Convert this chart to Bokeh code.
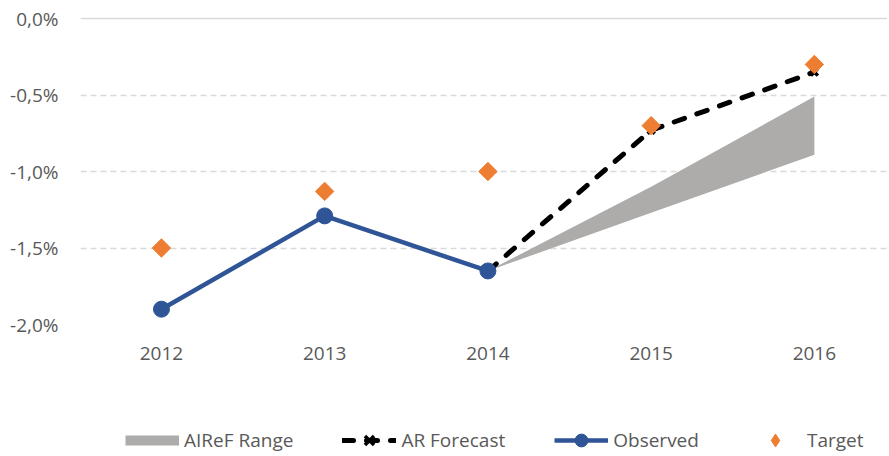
import math
from bokeh.plotting import figure
from bokeh.layouts import column
from bokeh.models import Range1d, FixedTicker, Span, Legend, LegendItem
from bokeh.embed import file_html
from bokeh.resources import INLINE

# ---- data ----
years_obs = [2012, 2013, 2014]
observed = [-1.90, -1.29, -1.65]

years_target = [2012, 2013, 2014, 2015, 2016]
target = [-1.50, -1.13, -1.00, -0.70, -0.30]

years_fc = [2014, 2015, 2016]
ar_forecast = [-1.65, -0.73, -0.35]
range_low = [-1.65, -1.27, -0.89]
range_high = [-1.65, -1.10, -0.51]

x_ticks = [2012, 2013, 2014, 2015, 2016]
x_tick_labels = ["2012", "2013", "2014", "2015", "2016"]
y_ticks = [-2.0, -1.5, -1.0, -0.5, 0.0]
y_tick_labels = ["-2,0%", "-1,5%", "-1,0%", "-0,5%", "0,0%"]
grid_ticks = [-2.0, -1.5, -1.0, -0.5]

series_names = ["AIReF Range", "AR Forecast", "Observed", "Target"]

FONT = "Open Sans"
TXT = "#595959"
C_RANGE = "#AEABAB"
C_FC = "black"
C_OBS = "#2F5597"
C_TGT = "#ED7D31"

p = figure(
    frame_width=807, frame_height=309,
    min_border_left=80, min_border_right=0, min_border_top=15, min_border_bottom=50,
    x_range=Range1d(2011.504, 2016.448), y_range=Range1d(-2.0, 0.02),
    output_backend="svg", toolbar_location=None,
    background_fill_color="white", border_fill_color="white",
)
p.outline_line_color = None

# axes
p.xaxis.ticker = FixedTicker(ticks=x_ticks)
p.xaxis.major_label_overrides = {t: l for t, l in zip(x_ticks, x_tick_labels)}
p.yaxis.ticker = FixedTicker(ticks=y_ticks)
p.yaxis.major_label_overrides = {t: l for t, l in zip(y_ticks, y_tick_labels)}
for ax in (p.xaxis[0], p.yaxis[0]):
    ax.axis_line_color = None
    ax.major_tick_line_color = None
    ax.minor_tick_line_color = None
    ax.major_label_text_font = FONT
    ax.major_label_text_font_size = "19px"
    ax.major_label_text_color = TXT
p.xaxis.major_label_standoff = 16
p.yaxis.major_label_standoff = 16

# grid
p.xgrid.grid_line_color = None
p.ygrid.ticker = FixedTicker(ticks=grid_ticks)
p.ygrid.grid_line_color = "#D9D9D9"
p.ygrid.grid_line_width = 1.3
p.ygrid.grid_line_dash = "6 4"
p.add_layout(Span(location=0.0, dimension="width", line_color="#D9D9D9", line_width=1.5))


def draw_series(fig, for_legend=False):
    if for_legend:
        band = fig.line(years_fc, range_high, line_color=C_RANGE, line_width=10)
    else:
        band = fig.varea(x=years_fc, y1=range_low, y2=range_high, fill_color=C_RANGE)
    fc_line = fig.line(years_fc, ar_forecast, line_color=C_FC, line_width=5,
                       line_dash="11 13", line_cap="round")
    fc_mark = fig.scatter(years_fc, ar_forecast, marker="x", size=10, line_width=3.5,
                          line_color=C_FC)
    obs_line = fig.line(years_obs, observed, line_color=C_OBS, line_width=4.5)
    obs_mark = fig.scatter(years_obs, observed, marker="circle", size=16,
                           fill_color=C_OBS, line_color=C_OBS)
    if for_legend:
        tgt_mark = fig.scatter(years_target, target, marker="diamond", size=16,
                               fill_color=C_TGT, line_color=C_TGT)
    else:
        tgt_mark = fig.scatter(years_target, target, marker="square", angle=math.pi / 4,
                               size=13, fill_color=C_TGT, line_color=C_TGT)
    return [[band], [fc_line, fc_mark], [obs_line, obs_mark], [tgt_mark]]


draw_series(p)

# legend strip below the chart: same series, drawn out of view so only the legend shows
lg = figure(
    width=887, height=82, min_border=0,
    x_range=Range1d(0, 1), y_range=Range1d(0, 1),
    x_axis_type=None, y_axis_type=None,
    output_backend="svg", toolbar_location=None,
    background_fill_color="white", border_fill_color="white",
)
lg.outline_line_color = None
lg.grid.visible = False
groups = draw_series(lg, for_legend=True)

legend = Legend(
    items=[LegendItem(label=n, renderers=r) for n, r in zip(series_names, groups)],
    orientation="horizontal",
    location=(45, 0),
    padding=0, margin=0, spacing=49,
    glyph_width=54, glyph_height=32, label_standoff=5,
    label_text_font=FONT, label_text_font_size="19px", label_text_color=TXT,
    background_fill_alpha=0, border_line_color=None,
)
lg.add_layout(legend, "center")

open("out.html", "w").write(file_html(column(p, lg, spacing=0), INLINE))
